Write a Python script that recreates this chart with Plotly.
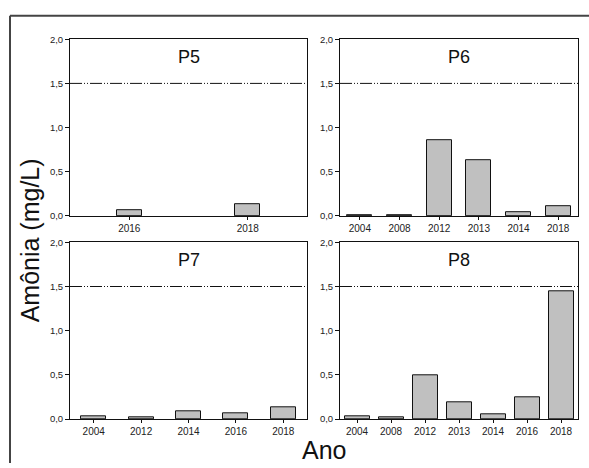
import plotly.graph_objects as go

# Data
p5_years = ["2016", "2018"]
p5_vals = [0.07, 0.13]
p6_years = ["2004", "2008", "2012", "2013", "2014", "2018"]
p6_vals = [0.005, 0.005, 0.86, 0.63, 0.04, 0.11]
p7_years = ["2004", "2012", "2014", "2016", "2018"]
p7_vals = [0.035, 0.02, 0.09, 0.07, 0.13]
p8_years = ["2004", "2008", "2012", "2013", "2014", "2016", "2018"]
p8_vals = [0.035, 0.02, 0.49, 0.19, 0.055, 0.245, 1.45]
panel_titles = ["P5", "P6", "P7", "P8"]
limit_value = 1.5
y_ticks = [0, 0.5, 1.0, 1.5, 2.0]

W, H = 589, 468
fig = go.Figure()

panels = [
    (p5_years, p5_vals, (70, 307), (34, 215)),
    (p6_years, p6_vals, (340, 578), (34, 215)),
    (p7_years, p7_vals, (70, 307), (242, 423)),
    (p8_years, p8_vals, (340, 578), (242, 423)),
]
bar_px = 25

for i, (years, vals, (x0, x1), (y0, y1)) in enumerate(panels):
    idx = "" if i == 0 else str(i + 1)
    n = len(years)
    per_cat = (x1 - x0) / n
    w = bar_px / per_cat
    fig.add_trace(go.Bar(
        x=list(range(n)), y=vals, width=[w] * n,
        marker=dict(color="#C0C0C0", line=dict(color="#111111", width=1)),
        xaxis="x" + idx, yaxis="y" + idx, showlegend=False,
        hoverinfo="x+y",
    ))
    fig.layout["xaxis" + idx] = dict(
        domain=[x0 / W, x1 / W], anchor="y" + idx,
        range=[-0.5, n - 0.5], tickmode="array",
        tickvals=list(range(n)), ticktext=years,
        showline=True, linecolor="#111111", linewidth=1, mirror=True,
        ticks="outside", ticklen=3, tickcolor="#111111",
        showgrid=False, zeroline=False,
        tickfont=dict(size=10, color="#222222", family="Liberation Sans, Arial"),
    )
    fig.layout["yaxis" + idx] = dict(
        domain=[1 - y1 / H, 1 - y0 / H], anchor="x" + idx,
        range=[0, 2.0], tickmode="array", tickvals=y_ticks,
        tickformat=".1f",
        showline=True, linecolor="#111111", linewidth=1, mirror=True,
        ticks="outside", ticklen=4, tickcolor="#111111",
        showgrid=False, zeroline=False,
        tickfont=dict(size=9.5, color="#222222", family="Liberation Sans, Arial"),
    )
    fig.add_shape(type="line", xref="x" + idx + " domain", yref="y" + idx,
                  x0=0, x1=1, y0=limit_value, y1=limit_value,
                  line=dict(color="#111111", width=1,
                            dash="12px,2px,1px,2px,1px,2px"))
    fig.add_annotation(text=panel_titles[i], xref="x" + idx + " domain",
                       yref="y" + idx + " domain", x=0.5, y=0.9,
                       xanchor="center", yanchor="middle",
                       showarrow=False,
                       font=dict(size=18, color="#111111", family="Liberation Sans, Arial"))

# Outer frame
fig.add_shape(type="line", xref="paper", yref="paper",
              x0=10 / W, x1=1, y0=1 - 10 / H, y1=1 - 10 / H,
              line=dict(color="#444444", width=2))
fig.add_shape(type="line", xref="paper", yref="paper",
              x0=10 / W, x1=10 / W, y0=0, y1=1 - 10 / H,
              line=dict(color="#444444", width=2))

fig.add_annotation(text="Amônia (mg/L)", xref="paper", yref="paper",
                   x=30 / W, y=1 - 240 / H, textangle=-90, showarrow=False,
                   xanchor="center", yanchor="middle",
                   font=dict(size=25, color="#111111", family="Liberation Sans, Arial"))
fig.add_annotation(text="Ano", xref="paper", yref="paper",
                   x=324 / W, y=1 - 455 / H, showarrow=False,
                   xanchor="center", yanchor="middle",
                   font=dict(size=25, color="#111111", family="Liberation Sans, Arial"))

fig.update_layout(
    width=W, height=H, margin=dict(l=0, r=0, t=0, b=0),
    paper_bgcolor="white", plot_bgcolor="white",
    separators=",.", bargap=0,
)
fig.write_html("out.html", config={"displayModeBar": False, "responsive": False},
               post_script="document.body.style.margin='0px';document.body.style.overflow='hidden';")
